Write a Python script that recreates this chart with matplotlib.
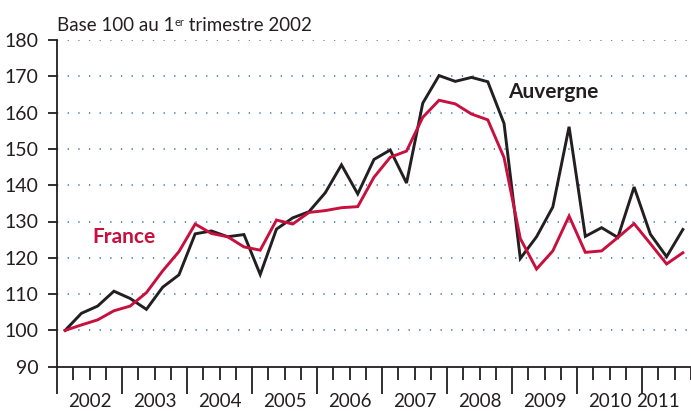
import matplotlib
matplotlib.use("Agg")
from matplotlib import pyplot as plt
from matplotlib.transforms import blended_transform_factory

# trimestres 2002 T1 -> 2011 T3, base 100 au 1er trimestre 2002
years = [2002, 2003, 2004, 2005, 2006, 2007, 2008, 2009, 2010, 2011]
auvergne = [100.0, 104.7, 106.7, 110.8, 108.8, 105.8, 111.9, 115.3,
            126.6, 127.4, 125.8, 126.4, 115.4, 127.9, 131.0, 132.7,
            137.9, 145.6, 137.6, 147.1, 149.7, 140.6, 162.6, 170.2,
            168.6, 169.7, 168.5, 157.0, 119.8, 125.8, 134.0, 156.1,
            125.9, 128.3, 125.6, 139.5, 126.5, 120.3, 127.8]
france = [100.0, 101.5, 102.9, 105.4, 106.7, 110.4, 116.4, 121.7,
          129.3, 126.7, 125.8, 123.0, 122.1, 130.4, 129.3, 132.5,
          133.0, 133.8, 134.1, 142.2, 147.7, 149.4, 158.7, 163.4,
          162.4, 159.6, 158.0, 147.6, 125.3, 116.9, 121.9, 131.5,
          121.5, 121.9, 125.6, 129.4, 123.9, 118.3, 121.4]
yticks = [90, 100, 110, 120, 130, 140, 150, 160, 170, 180]

BLACK = "#231f20"
RED = "#c8103f"
GRID = "#4a80cf"

plt.rcParams["font.family"] = ["Lato", "DejaVu Sans"]

W, H = 691, 411
fig = plt.figure(figsize=(W / 100, H / 100), dpi=100)
ax = fig.add_axes([57 / W, (H - 366.7) / H, (W - 57) / W, (366.7 - 40) / H])

n = len(auvergne)
x = list(range(n))

for v in yticks[1:]:
    ax.axhline(v, color=GRID, lw=1.3, ls=(0, (0.7, 5.2)), zorder=1)

ax.plot(x, auvergne, color=BLACK, lw=2.1, zorder=3, solid_joinstyle="miter")
ax.plot(x, france, color=RED, lw=2.1, zorder=4, solid_joinstyle="miter")

ax.set_xlim(-0.5, n - 0.5)
ax.set_ylim(90, 180)

ax.spines["top"].set_visible(False)
ax.spines["right"].set_visible(False)
for s in ["left", "bottom"]:
    ax.spines[s].set_color(BLACK)
    ax.spines[s].set_linewidth(1.3)

ax.set_yticks(yticks)
ax.tick_params(axis="y", direction="out", length=6.5, width=1.3, color=BLACK,
               pad=7, labelsize=14, labelcolor=BLACK)

major = [-0.5 + 4 * k for k in range(len(years))]
minor = [b - 0.5 for b in range(n + 1) if (b - 0.5) not in major]
ax.set_xticks(major)
ax.set_xticks(minor, minor=True)
ax.set_xticklabels([])
ax.tick_params(axis="x", which="major", direction="out", length=19.5, width=1.3, color=BLACK)
ax.tick_params(axis="x", which="minor", direction="out", length=9, width=1.3, color=BLACK)

# annee incomplete (2011) : libelle centre sur la partie visible
trans = blended_transform_factory(ax.transData, ax.transAxes)
for k, yr in enumerate(years):
    xc = 4 * k + 1.5
    if k == len(years) - 1:
        xc = 36.45
    ax.text(xc, -0.107, str(yr), transform=trans, ha="center", va="center",
            fontsize=13.5, color=BLACK)

ax.text(3.65, 125.7, "France", color=RED, fontsize=15, fontweight="bold",
        ha="center", va="center")
ax.text(30.0, 165.7, "Auvergne", color=BLACK, fontsize=15, fontweight="bold",
        ha="center", va="center")

t1 = fig.text(57 / W, 1 - 31 / H, "Base 100 au 1", fontsize=13.5, color=BLACK,
              ha="left", va="baseline")
t2 = ax.annotate("er", xy=(1, 1), xycoords=t1, fontsize=8, color=BLACK,
                 ha="left", va="top", annotation_clip=False)
ax.annotate(" trimestre 2002", xy=(1, 0), xycoords=(t2, t1), fontsize=13.5,
            color=BLACK, ha="left", va="bottom", annotation_clip=False)

fig.savefig("out.png", dpi=100)
